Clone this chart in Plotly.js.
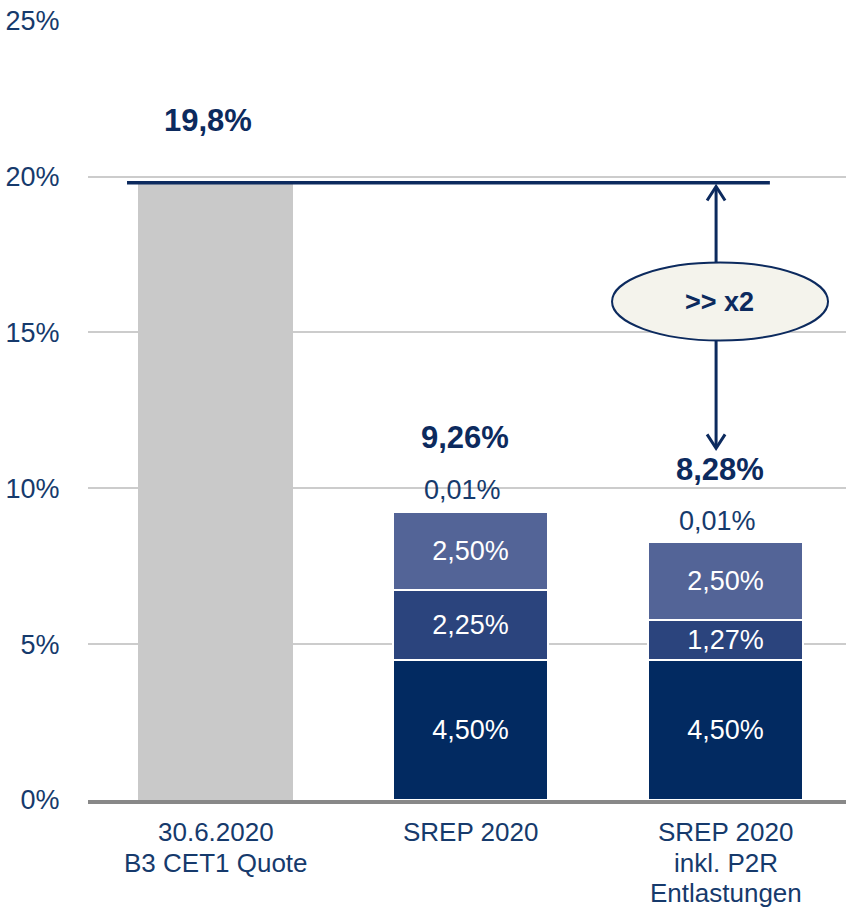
<!DOCTYPE html>
<html>
<head>
<meta charset="utf-8">
<script src="https://cdn.plot.ly/plotly-3.0.1.min.js"></script>
<style>
  html, body { margin: 0; padding: 0; background: #ffffff; }
  #chart { width: 846px; height: 907px; }
</style>
</head>
<body>
<div id="chart"></div>
<script>
var categories = ['30.6.2020<br>B3 CET1 Quote', 'SREP 2020', 'SREP 2020<br>inkl. P2R<br>Entlastungen'];
var cet1Actual = [19.8, null, null];
var pillar1 = [null, 4.50, 4.50];
var pillar2R = [null, 2.25, 1.27];
var bufferCCB = [null, 2.50, 2.50];
var bufferOther = [null, 0.01, 0.01];
var totalLabels = ['19,8%', '9,26%', '8,28%'];
var smallLabels = [null, '0,01%', '0,01%'];
var tickVals = [0, 5, 10, 15, 20, 25];
var tickText = ['0%', '5%', '10%', '15%', '20%', '25%'];
var multipleText = '>> x2';

var navy = '#0c2a5e';
var textNavy = '#163a6c';
var font = 'Liberation Sans, Arial, sans-serif';

function fmt(v) {
    return v.toFixed(2).replace('.', ',') + '%';
}

function segment(values, color) {
    return {
        type: 'bar',
        x: categories,
        y: values,
        marker: { color: color, line: { color: '#ffffff', width: 2 } },
        text: values.map(function(v) { return v === null ? '' : fmt(v); }),
        textposition: 'inside',
        insidetextanchor: 'middle',
        textangle: 0,
        constraintext: 'none',
        textfont: { family: font, size: 27, color: '#ffffff' },
        hoverinfo: 'skip',
        showlegend: false
    };
}

var data = [
    {
        type: 'bar',
        x: categories,
        y: cet1Actual,
        marker: { color: '#c9c9c9', line: { width: 0 } },
        hoverinfo: 'skip',
        showlegend: false
    },
    segment(pillar1, '#022a61'),
    segment(pillar2R, '#2b447d'),
    segment(bufferCCB, '#536497'),
    {
        type: 'bar',
        x: categories,
        y: bufferOther,
        marker: { color: 'rgba(255,255,255,0)', line: { width: 0 } },
        hoverinfo: 'skip',
        showlegend: false
    }
];

// totals per column from the stacked values
var totals = categories.map(function(c, i) {
    return (cet1Actual[i] || 0) + (pillar1[i] || 0) + (pillar2R[i] || 0) +
        (bufferCCB[i] || 0) + (bufferOther[i] || 0);
});

var annotations = [];
var totalShift = [62, 74, 72];
categories.forEach(function(c, i) {
    annotations.push({
        x: i - (i === 0 ? 0.03 : 0.02), y: totals[i], xref: 'x', yref: 'y',
        text: '<b>' + totalLabels[i] + '</b>',
        showarrow: false, yanchor: 'middle', yshift: totalShift[i],
        font: { family: font, size: 31, color: navy }
    });
    if (smallLabels[i]) {
        annotations.push({
            x: i - 0.03, y: totals[i], xref: 'x', yref: 'y',
            text: smallLabels[i],
            showarrow: false, yanchor: 'middle', yshift: 21,
            font: { family: font, size: 27, color: textNavy }
        });
    }
    // category labels, one line each so the line spacing stays tight
    c.split('<br>').forEach(function(line, k) {
        annotations.push({
            x: i, y: 0, xref: 'x', yref: 'paper',
            text: line, showarrow: false, yanchor: 'middle',
            yshift: -32 - 30.5 * k,
            font: { family: font, size: 26, color: textNavy }
        });
    });
});

var arrowX = 1.963;
var ellipseTop = 17.24;
var ellipseBottom = 14.74;
var upTip = 19.68;
var downTip = 11.28;

annotations.push({
    x: arrowX + 0.015, y: (ellipseTop + ellipseBottom) / 2, xref: 'x', yref: 'y',
    text: '<b>' + multipleText + '</b>', showarrow: false,
    font: { family: font, size: 27, color: navy }
});

var shapes = [
    // current CET1 level line
    { type: 'line', xref: 'x', yref: 'y', x0: -0.347, x1: 2.174, y0: cet1Actual[0], y1: cet1Actual[0],
      line: { color: navy, width: 3.5 } },
    // arrow shafts
    { type: 'line', xref: 'x', yref: 'y', x0: arrowX, x1: arrowX, y0: ellipseTop, y1: upTip - 0.05,
      line: { color: navy, width: 3 } },
    { type: 'line', xref: 'x', yref: 'y', x0: arrowX, x1: arrowX, y0: ellipseBottom, y1: downTip + 0.05,
      line: { color: navy, width: 3 } },
    // arrow heads
    { type: 'path', xref: 'x', yref: 'y', xsizemode: 'pixel', ysizemode: 'pixel',
      xanchor: arrowX, yanchor: upTip, path: 'M -9,-14 L 0,0 L 9,-14',
      line: { color: navy, width: 3 } },
    { type: 'path', xref: 'x', yref: 'y', xsizemode: 'pixel', ysizemode: 'pixel',
      xanchor: arrowX, yanchor: downTip, path: 'M -9,14 L 0,0 L 9,14',
      line: { color: navy, width: 3 } },
    // ellipse
    { type: 'circle', xref: 'x', yref: 'y', x0: 1.555, x1: 2.402, y0: ellipseBottom, y1: ellipseTop,
      fillcolor: '#f4f3ec', line: { color: navy, width: 2 } }
];

var layout = {
    width: 846,
    height: 907,
    margin: { l: 88, r: 0, t: 20, b: 107 },
    paper_bgcolor: '#ffffff',
    plot_bgcolor: '#ffffff',
    barmode: 'stack',
    bargap: 0.39,
    showlegend: false,
    font: { family: font, color: textNavy },
    xaxis: {
        type: 'category',
        range: [-0.5, 2.4725],
        showline: true,
        linecolor: '#888888',
        linewidth: 4,
        showgrid: false,
        showticklabels: false,
        ticks: '',
        fixedrange: true
    },
    yaxis: {
        range: [0, 25.02],
        tickvals: tickVals,
        ticktext: tickText,
        showgrid: true,
        gridcolor: '#cccccc',
        gridwidth: 2,
        zeroline: false,
        showline: false,
        ticks: 'outside',
        ticklen: 22,
        tickcolor: 'rgba(0,0,0,0)',
        tickfont: { family: font, size: 27, color: textNavy },
        fixedrange: true
    },
    annotations: annotations,
    shapes: shapes
};

Plotly.newPlot('chart', data, layout, { displayModeBar: false, staticPlot: true });
</script>
</body>
</html>
